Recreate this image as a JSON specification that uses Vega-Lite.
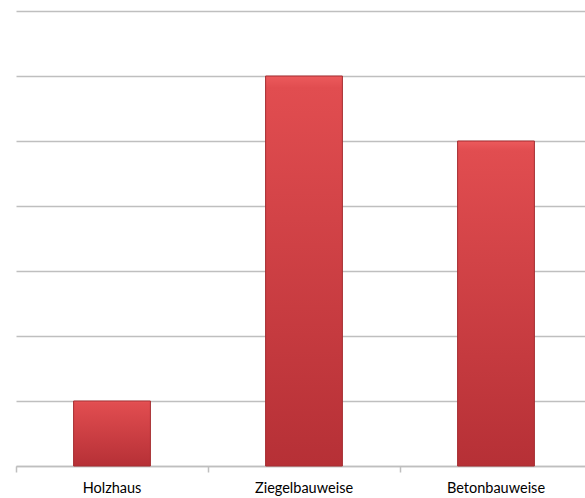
{
  "$schema": "https://vega.github.io/schema/vega-lite/v6.json",
  "width": 576,
  "height": 455,
  "padding": {"left": 16, "top": 11, "right": 0, "bottom": 32},
  "autosize": {"type": "none"},
  "background": "white",
  "config": {"view": {"stroke": null}},
  "data": {"values": [
    {"kategorie": "Holzhaus", "wert": 1},
    {"kategorie": "Ziegelbauweise", "wert": 6},
    {"kategorie": "Betonbauweise", "wert": 5}
  ]},
  "layer": [
    {
      "mark": {"type": "bar", "stroke": "#a52c30", "strokeWidth": 1,
        "color": {"gradient": "linear", "x1": 0, "y1": 0, "x2": 0, "y2": 1,
          "stops": [{"offset": 0, "color": "#ec5a5c"}, {"offset": 0.03, "color": "#e14d50"}, {"offset": 1, "color": "#b63036"}]}},
      "encoding": {
        "x": {"field": "kategorie", "type": "nominal", "sort": null,
          "scale": {"paddingInner": 0.6, "paddingOuter": 0.3},
          "axis": {"title": null, "labelAngle": 0, "ticks": false, "domain": true, "domainColor": "#bfbfbf", "domainWidth": 1.5,
            "labelFont": "Lato", "labelFontSize": 14.5, "labelColor": "#000000", "labelPadding": 15, "grid": false}},
        "y": {"field": "wert", "type": "quantitative",
          "scale": {"domain": [0, 7], "nice": false},
          "axis": {"title": null, "labels": false, "ticks": false, "domain": false, "tickCount": 7,
            "grid": true, "gridColor": "#bfbfbf", "gridWidth": 1.5, "gridOpacity": 1}}
      }
    },
    {
      "mark": {"type": "bar", "opacity": 0},
      "encoding": {
        "x": {"field": "kategorie", "type": "nominal", "sort": null,
          "scale": {"paddingInner": 0, "paddingOuter": 0},
          "axis": {"title": null, "orient": "bottom", "labels": false, "domain": false, "ticks": true, "bandPosition": 0,
            "tickColor": "#bfbfbf", "tickWidth": 1.5, "tickSize": 6, "tickOpacity": 1, "grid": false}},
        "y": {"field": "wert", "type": "quantitative"}
      }
    }
  ],
  "resolve": {"axis": {"x": "independent"}, "scale": {"x": "independent"}}
}
